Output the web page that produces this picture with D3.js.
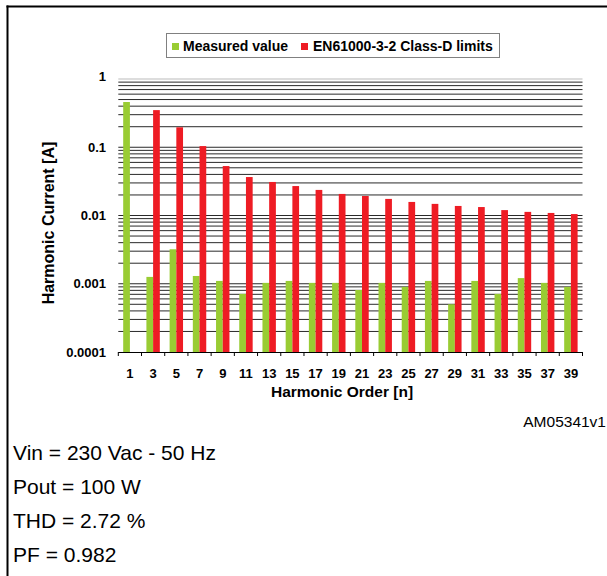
<!DOCTYPE html>
<html>
<head>
<meta charset="utf-8">
<script src="https://cdn.jsdelivr.net/npm/d3@7"></script>
<style>
  html, body { margin: 0; padding: 0; background: #fff; }
  svg { display: block; }
  text { font-family: "Liberation Sans", Arial, Helvetica, sans-serif; }
</style>
</head>
<body>
<svg id="chart" width="607" height="576"></svg>
<script>
// ---- Data ----
const harmonicOrders = [1, 3, 5, 7, 9, 11, 13, 15, 17, 19, 21, 23, 25, 27, 29, 31, 33, 35, 37, 39];
const measuredValues = [0.46, 0.00126, 0.0032, 0.0013, 0.0011, 0.00071, 0.00103, 0.0011, 0.00103, 0.00103,
                        0.00081, 0.00103, 0.0009, 0.0011, 0.0005, 0.0011, 0.00071, 0.00121, 0.00103, 0.0009];
const classDLimits   = [null, 0.35, 0.196, 0.104, 0.053, 0.0366, 0.031, 0.027, 0.0237, 0.0207,
                        0.0193, 0.0175, 0.0158, 0.0148, 0.0138, 0.0133, 0.012, 0.0113, 0.0109, 0.0105];
const seriesNames = ["Measured value", "EN61000-3-2 Class-D limits"];
const yTickValues = [1, 0.1, 0.01, 0.001, 0.0001];
const yTickLabels = ["1", "0.1", "0.01", "0.001", "0.0001"];
const notes = ["Vin = 230 Vac - 50 Hz", "Pout = 100 W", "THD = 2.72 %", "PF = 0.982"];
const figureCode = "AM05341v1";

const colors = { measured: "#99CC33", limit: "#EE1C24" };

const svg = d3.select("#chart");

// ---- Frame ----
svg.append("line").attr("x1", 7.5).attr("x2", 7.5).attr("y1", 5.5).attr("y2", 576)
  .attr("stroke", "#000").attr("stroke-width", 2);
svg.append("line").attr("x1", 6.5).attr("x2", 607).attr("y1", 6.5).attr("y2", 6.5)
  .attr("stroke", "#000").attr("stroke-width", 2);

// ---- Scales ----
const plot = { left: 118.3, right: 582.5, top: 79, bottom: 352 };
const x0 = d3.scaleBand().domain(harmonicOrders).range([plot.left, plot.right]).padding(0);
const x1 = d3.scaleBand().domain(["measured", "limit"]).range([0, x0.bandwidth()])
  .paddingInner(0).paddingOuter(0.73);
const y = d3.scaleLog().domain([0.0001, 1]).range([plot.bottom, plot.top]);

// ---- Gridlines (minor log positions) ----
const gridVals = [];
for (let e = -4; e < 0; e++) {
  for (let m = 1; m <= 9; m++) gridVals.push(m * Math.pow(10, e));
}
gridVals.push(1);
svg.append("g").selectAll("line").data(gridVals.filter(v => v > 0.0001)).join("line")
  .attr("x1", plot.left).attr("x2", plot.right)
  .attr("y1", d => y(d)).attr("y2", d => y(d))
  .attr("stroke", d => d === 1 ? "#bbb" : "#2a2a2a").attr("stroke-width", 1);

// ---- Bars ----
const rows = harmonicOrders.map((o, i) => ({ order: o, measured: measuredValues[i], limit: classDLimits[i] }));
const groups = svg.append("g").selectAll("g").data(rows).join("g")
  .attr("transform", d => `translate(${x0(d.order)},0)`);
groups.selectAll("rect")
  .data(d => ["measured", "limit"].filter(k => d[k] != null).map(k => ({ key: k, value: d[k] })))
  .join("rect")
  .attr("x", d => x1(d.key))
  .attr("width", x1.bandwidth())
  .attr("y", d => y(d.value))
  .attr("height", d => y(0.0001) - y(d.value))
  .attr("fill", d => colors[d.key]);

// ---- X axis ----
const xAxisG = svg.append("g");
xAxisG.append("line").attr("x1", plot.left).attr("x2", plot.right)
  .attr("y1", plot.bottom + 0.5).attr("y2", plot.bottom + 0.5).attr("stroke", "#000");
const boundaries = harmonicOrders.map(o => x0(o)).concat([plot.right]);
xAxisG.selectAll("line.tick").data(boundaries).join("line").attr("class", "tick")
  .attr("x1", d => d).attr("x2", d => d)
  .attr("y1", plot.bottom).attr("y2", plot.bottom + 4).attr("stroke", "#000");
xAxisG.selectAll("text").data(harmonicOrders).join("text")
  .attr("x", d => x0(d) + x0.bandwidth() / 2)
  .attr("y", 378)
  .attr("text-anchor", "middle")
  .attr("font-size", 13).attr("font-weight", "bold")
  .text(d => d);
svg.append("text").attr("x", 342).attr("y", 397).attr("text-anchor", "middle")
  .attr("font-size", 15.5).attr("font-weight", "bold").text("Harmonic Order [n]");

// ---- Y axis labels ----
svg.append("g").selectAll("text").data(yTickValues).join("text")
  .attr("x", 106)
  .attr("y", (d, i) => y(d) + (i === 0 ? 2 : 4.5))
  .attr("text-anchor", "end")
  .attr("font-size", 13).attr("font-weight", "bold")
  .text((d, i) => yTickLabels[i]);
svg.append("text")
  .attr("transform", "translate(54,223) rotate(-90)")
  .attr("text-anchor", "middle")
  .attr("font-size", 16).attr("font-weight", "bold")
  .text("Harmonic Current [A]");

// ---- Legend ----
const lg = svg.append("g");
lg.append("rect").attr("x", 166.5).attr("y", 33.5).attr("width", 333).attr("height", 24)
  .attr("fill", "#fff").attr("stroke", "#808080");
lg.append("rect").attr("x", 172).attr("y", 43).attr("width", 7).attr("height", 7).attr("fill", colors.measured);
lg.append("text").attr("x", 183).attr("y", 50.5).attr("font-size", 14).attr("font-weight", "bold").text(seriesNames[0]);
lg.append("rect").attr("x", 301).attr("y", 43).attr("width", 7).attr("height", 7).attr("fill", colors.limit);
lg.append("text").attr("x", 313).attr("y", 50.5).attr("font-size", 14).attr("font-weight", "bold").text(seriesNames[1]);

// ---- Figure code & notes ----
svg.append("text").attr("x", 606).attr("y", 427).attr("text-anchor", "end")
  .attr("font-size", 15.5).text(figureCode);
svg.append("g").selectAll("text").data(notes).join("text")
  .attr("x", 13).attr("y", (d, i) => 459.5 + i * 34)
  .attr("font-size", 21).text(d => d);
</script>
</body>
</html>
